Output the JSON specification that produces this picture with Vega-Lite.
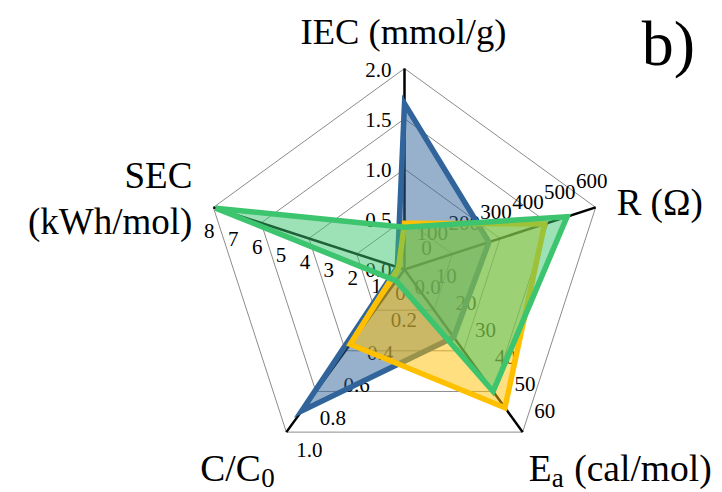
{
  "$schema": "https://vega.github.io/schema/vega-lite/v6.json",
  "width": 722,
  "height": 492,
  "autosize": {"type": "none"},
  "padding": 0,
  "background": "white",
  "config": {"view": {"stroke": null}, "text": {"font": "'Liberation Serif', 'Times New Roman', Times, serif"}},
  "datasets": {
    "rings": [
      {"lvl": 0.25, "idx": 0}, {"lvl": 0.25, "idx": 1}, {"lvl": 0.25, "idx": 2}, {"lvl": 0.25, "idx": 3}, {"lvl": 0.25, "idx": 4},
      {"lvl": 0.5, "idx": 0}, {"lvl": 0.5, "idx": 1}, {"lvl": 0.5, "idx": 2}, {"lvl": 0.5, "idx": 3}, {"lvl": 0.5, "idx": 4},
      {"lvl": 0.75, "idx": 0}, {"lvl": 0.75, "idx": 1}, {"lvl": 0.75, "idx": 2}, {"lvl": 0.75, "idx": 3}, {"lvl": 0.75, "idx": 4},
      {"lvl": 1, "idx": 0}, {"lvl": 1, "idx": 1}, {"lvl": 1, "idx": 2}, {"lvl": 1, "idx": 3}, {"lvl": 1, "idx": 4}
    ],
    "axes": [
      {"idx": 0, "name": "IEC"}, {"idx": 1, "name": "R"}, {"idx": 2, "name": "Ea"}, {"idx": 3, "name": "C/C0"}, {"idx": 4, "name": "SEC"}
    ],
    "ticks": [
      {"idx": 0, "v": 0, "t": "0.0"}, {"idx": 0, "v": 0.5, "t": "0.5"}, {"idx": 0, "v": 1, "t": "1.0"}, {"idx": 0, "v": 1.5, "t": "1.5"}, {"idx": 0, "v": 2, "t": "2.0"},
      {"idx": 1, "v": 0, "t": "0"}, {"idx": 1, "v": 100, "t": "100"}, {"idx": 1, "v": 200, "t": "200"}, {"idx": 1, "v": 300, "t": "300"}, {"idx": 1, "v": 400, "t": "400"}, {"idx": 1, "v": 500, "t": "500"}, {"idx": 1, "v": 600, "t": "600"},
      {"idx": 2, "v": 0, "t": "0"}, {"idx": 2, "v": 10, "t": "10"}, {"idx": 2, "v": 20, "t": "20"}, {"idx": 2, "v": 30, "t": "30"}, {"idx": 2, "v": 40, "t": "40"}, {"idx": 2, "v": 50, "t": "50"}, {"idx": 2, "v": 60, "t": "60"},
      {"idx": 3, "v": 0, "t": "0.0"}, {"idx": 3, "v": 0.2, "t": "0.2"}, {"idx": 3, "v": 0.4, "t": "0.4"}, {"idx": 3, "v": 0.6, "t": "0.6"}, {"idx": 3, "v": 0.8, "t": "0.8"}, {"idx": 3, "v": 1, "t": "1.0"},
      {"idx": 4, "v": 0, "t": "0"}, {"idx": 4, "v": 1, "t": "1"}, {"idx": 4, "v": 2, "t": "2"}, {"idx": 4, "v": 3, "t": "3"}, {"idx": 4, "v": 4, "t": "4"}, {"idx": 4, "v": 5, "t": "5"}, {"idx": 4, "v": 6, "t": "6"}, {"idx": 4, "v": 7, "t": "7"}, {"idx": 4, "v": 8, "t": "8"}
    ],
    "series": [
      {"s": "A", "idx": 0, "v": 1.65}, {"s": "A", "idx": 1, "v": 265}, {"s": "A", "idx": 2, "v": 25}, {"s": "A", "idx": 3, "v": 0.87}, {"s": "A", "idx": 4, "v": 0.3},
      {"s": "B", "idx": 0, "v": 0.46}, {"s": "B", "idx": 1, "v": 440}, {"s": "B", "idx": 2, "v": 51}, {"s": "B", "idx": 3, "v": 0.46}, {"s": "B", "idx": 4, "v": 0.25},
      {"s": "C", "idx": 0, "v": 0.42}, {"s": "C", "idx": 1, "v": 510}, {"s": "C", "idx": 2, "v": 45}, {"s": "C", "idx": 3, "v": 0.07}, {"s": "C", "idx": 4, "v": 7.9}
    ],
    "titles": [
      {"idx": 0, "part": "main", "t": "IEC (mmol/g)"},
      {"idx": 1, "part": "main", "t": "R (Ω)"},
      {"idx": 1, "part": "panel", "t": "b)"},
      {"idx": 2, "part": "main", "t": "E"},
      {"idx": 2, "part": "sub", "t": "a"},
      {"idx": 2, "part": "rest", "t": "(cal/mol)"},
      {"idx": 3, "part": "main", "t": "C/C"},
      {"idx": 3, "part": "sub", "t": "0"},
      {"idx": 4, "part": "main", "t": "SEC\n(kWh/mol)"}
    ]
  },
  "layer": [
    {
      "data": {"name": "rings"},
      "transform": [
        {"calculate": "PI/2 - datum.idx*2*PI/5", "as": "a"},
        {"calculate": "datum.lvl*cos(datum.a)", "as": "px"},
        {"calculate": "datum.lvl*sin(datum.a)", "as": "py"}
      ],
      "mark": {"type": "line", "interpolate": "linear-closed", "stroke": "#8c8c8c", "strokeWidth": 1},
      "encoding": {
        "x": {"field": "px", "type": "quantitative", "scale": {"domain": [-2.01244, 1.5796], "nice": false, "zero": false}, "axis": null},
        "y": {"field": "py", "type": "quantitative", "scale": {"domain": [-1.10697, 1.3408], "nice": false, "zero": false}, "axis": null},
        "detail": {"field": "lvl", "type": "nominal"},
        "order": {"field": "idx", "type": "quantitative"}
      }
    },
    {
      "data": {"name": "axes"},
      "transform": [
        {"calculate": "PI/2 - datum.idx*2*PI/5", "as": "a"},
        {"calculate": "cos(datum.a)", "as": "px"},
        {"calculate": "sin(datum.a)", "as": "py"},
        {"calculate": "0", "as": "zx"}
      ],
      "mark": {"type": "rule", "stroke": "#000000", "strokeWidth": 2.5},
      "encoding": {
        "x": {"field": "zx", "type": "quantitative", "scale": {"domain": [-2.01244, 1.5796], "nice": false, "zero": false}, "axis": null},
        "y": {"field": "zx", "type": "quantitative", "scale": {"domain": [-1.10697, 1.3408], "nice": false, "zero": false}, "axis": null},
        "x2": {"field": "px"},
        "y2": {"field": "py"}
      }
    },
    {
      "data": {"name": "ticks"},
      "transform": [
        {"filter": "datum.idx == 0"},
        {"calculate": "PI/2 - datum.idx*2*PI/5", "as": "a"},
        {"calculate": "datum.v / [2,600,60,1,8][datum.idx]", "as": "r"},
        {"calculate": "datum.r*cos(datum.a)", "as": "px"},
        {"calculate": "datum.r*sin(datum.a)", "as": "py"}
      ],
      "mark": {"type": "text", "fontSize": 21, "color": "#000000", "align": "right", "baseline": "middle", "dx": -13, "dy": 2},
      "encoding": {
        "x": {"field": "px", "type": "quantitative", "scale": {"domain": [-2.01244, 1.5796], "nice": false, "zero": false}, "axis": null},
        "y": {"field": "py", "type": "quantitative", "scale": {"domain": [-1.10697, 1.3408], "nice": false, "zero": false}, "axis": null},
        "text": {"field": "t", "type": "nominal"}
      }
    },
    {
      "data": {"name": "ticks"},
      "transform": [
        {"filter": "datum.idx == 1"},
        {"calculate": "PI/2 - datum.idx*2*PI/5", "as": "a"},
        {"calculate": "datum.v / [2,600,60,1,8][datum.idx]", "as": "r"},
        {"calculate": "datum.r*cos(datum.a)", "as": "px"},
        {"calculate": "datum.r*sin(datum.a)", "as": "py"}
      ],
      "mark": {"type": "text", "fontSize": 21, "color": "#000000", "align": "center", "baseline": "middle", "dx": -4, "dy": -25},
      "encoding": {
        "x": {"field": "px", "type": "quantitative", "scale": {"domain": [-2.01244, 1.5796], "nice": false, "zero": false}, "axis": null},
        "y": {"field": "py", "type": "quantitative", "scale": {"domain": [-1.10697, 1.3408], "nice": false, "zero": false}, "axis": null},
        "text": {"field": "t", "type": "nominal"}
      }
    },
    {
      "data": {"name": "ticks"},
      "transform": [
        {"filter": "datum.idx == 2"},
        {"calculate": "PI/2 - datum.idx*2*PI/5", "as": "a"},
        {"calculate": "datum.v / [2,600,60,1,8][datum.idx]", "as": "r"},
        {"calculate": "datum.r*cos(datum.a)", "as": "px"},
        {"calculate": "datum.r*sin(datum.a)", "as": "py"}
      ],
      "mark": {"type": "text", "fontSize": 21, "color": "#000000", "align": "center", "baseline": "middle", "dx": 22, "dy": -20},
      "encoding": {
        "x": {"field": "px", "type": "quantitative", "scale": {"domain": [-2.01244, 1.5796], "nice": false, "zero": false}, "axis": null},
        "y": {"field": "py", "type": "quantitative", "scale": {"domain": [-1.10697, 1.3408], "nice": false, "zero": false}, "axis": null},
        "text": {"field": "t", "type": "nominal"}
      }
    },
    {
      "data": {"name": "ticks"},
      "transform": [
        {"filter": "datum.idx == 3"},
        {"calculate": "PI/2 - datum.idx*2*PI/5", "as": "a"},
        {"calculate": "datum.v / [2,600,60,1,8][datum.idx]", "as": "r"},
        {"calculate": "datum.r*cos(datum.a)", "as": "px"},
        {"calculate": "datum.r*sin(datum.a)", "as": "py"}
      ],
      "mark": {"type": "text", "fontSize": 21, "color": "#000000", "align": "center", "baseline": "middle", "dx": 23, "dy": 19},
      "encoding": {
        "x": {"field": "px", "type": "quantitative", "scale": {"domain": [-2.01244, 1.5796], "nice": false, "zero": false}, "axis": null},
        "y": {"field": "py", "type": "quantitative", "scale": {"domain": [-1.10697, 1.3408], "nice": false, "zero": false}, "axis": null},
        "text": {"field": "t", "type": "nominal"}
      }
    },
    {
      "data": {"name": "ticks"},
      "transform": [
        {"filter": "datum.idx == 4"},
        {"calculate": "PI/2 - datum.idx*2*PI/5", "as": "a"},
        {"calculate": "datum.v / [2,600,60,1,8][datum.idx]", "as": "r"},
        {"calculate": "datum.r*cos(datum.a)", "as": "px"},
        {"calculate": "datum.r*sin(datum.a)", "as": "py"}
      ],
      "mark": {"type": "text", "fontSize": 21, "color": "#000000", "align": "center", "baseline": "middle", "dx": -4, "dy": 25},
      "encoding": {
        "x": {"field": "px", "type": "quantitative", "scale": {"domain": [-2.01244, 1.5796], "nice": false, "zero": false}, "axis": null},
        "y": {"field": "py", "type": "quantitative", "scale": {"domain": [-1.10697, 1.3408], "nice": false, "zero": false}, "axis": null},
        "text": {"field": "t", "type": "nominal"}
      }
    },
    {
      "data": {"name": "series"},
      "transform": [
        {"filter": "datum.s == 'A'"},
        {"calculate": "PI/2 - datum.idx*2*PI/5", "as": "a"},
        {"calculate": "datum.v / [2,600,60,1,8][datum.idx]", "as": "r"},
        {"calculate": "datum.r*cos(datum.a)", "as": "px"},
        {"calculate": "datum.r*sin(datum.a)", "as": "py"}
      ],
      "mark": {"type": "line", "interpolate": "linear-closed", "stroke": "#30649A", "strokeWidth": 5.5, "strokeJoin": "miter", "fill": "#30649A", "fillOpacity": 0.5},
      "encoding": {
        "x": {"field": "px", "type": "quantitative", "scale": {"domain": [-2.01244, 1.5796], "nice": false, "zero": false}, "axis": null},
        "y": {"field": "py", "type": "quantitative", "scale": {"domain": [-1.10697, 1.3408], "nice": false, "zero": false}, "axis": null},
        "order": {"field": "idx", "type": "quantitative"}
      }
    },
    {
      "data": {"name": "series"},
      "transform": [
        {"filter": "datum.s == 'B'"},
        {"calculate": "PI/2 - datum.idx*2*PI/5", "as": "a"},
        {"calculate": "datum.v / [2,600,60,1,8][datum.idx]", "as": "r"},
        {"calculate": "datum.r*cos(datum.a)", "as": "px"},
        {"calculate": "datum.r*sin(datum.a)", "as": "py"}
      ],
      "mark": {"type": "line", "interpolate": "linear-closed", "stroke": "#FFC000", "strokeWidth": 5.5, "strokeJoin": "miter", "fill": "#FFC000", "fillOpacity": 0.5},
      "encoding": {
        "x": {"field": "px", "type": "quantitative", "scale": {"domain": [-2.01244, 1.5796], "nice": false, "zero": false}, "axis": null},
        "y": {"field": "py", "type": "quantitative", "scale": {"domain": [-1.10697, 1.3408], "nice": false, "zero": false}, "axis": null},
        "order": {"field": "idx", "type": "quantitative"}
      }
    },
    {
      "data": {"name": "series"},
      "transform": [
        {"filter": "datum.s == 'C'"},
        {"calculate": "PI/2 - datum.idx*2*PI/5", "as": "a"},
        {"calculate": "datum.v / [2,600,60,1,8][datum.idx]", "as": "r"},
        {"calculate": "datum.r*cos(datum.a)", "as": "px"},
        {"calculate": "datum.r*sin(datum.a)", "as": "py"}
      ],
      "mark": {"type": "line", "interpolate": "linear-closed", "stroke": "#3CC46E", "strokeWidth": 5.5, "strokeJoin": "miter", "fill": "#3CC46E", "fillOpacity": 0.5},
      "encoding": {
        "x": {"field": "px", "type": "quantitative", "scale": {"domain": [-2.01244, 1.5796], "nice": false, "zero": false}, "axis": null},
        "y": {"field": "py", "type": "quantitative", "scale": {"domain": [-1.10697, 1.3408], "nice": false, "zero": false}, "axis": null},
        "order": {"field": "idx", "type": "quantitative"}
      }
    },
    {
      "data": {"name": "titles"},
      "transform": [
        {"filter": "datum.idx == 0 && datum.part == 'main'"},
        {"calculate": "PI/2 - datum.idx*2*PI/5", "as": "a"},
        {"calculate": "cos(datum.a)", "as": "px"},
        {"calculate": "sin(datum.a)", "as": "py"}
      ],
      "mark": {"type": "text", "fontSize": 36.5, "color": "#000000", "align": "center", "baseline": "alphabetic", "dx": -1, "dy": -25},
      "encoding": {
        "x": {"field": "px", "type": "quantitative", "scale": {"domain": [-2.01244, 1.5796], "nice": false, "zero": false}, "axis": null},
        "y": {"field": "py", "type": "quantitative", "scale": {"domain": [-1.10697, 1.3408], "nice": false, "zero": false}, "axis": null},
        "text": {"field": "t", "type": "nominal"}
      }
    },
    {
      "data": {"name": "titles"},
      "transform": [
        {"filter": "datum.idx == 1 && datum.part == 'main'"},
        {"calculate": "PI/2 - datum.idx*2*PI/5", "as": "a"},
        {"calculate": "cos(datum.a)", "as": "px"},
        {"calculate": "sin(datum.a)", "as": "py"}
      ],
      "mark": {"type": "text", "fontSize": 37, "color": "#000000", "align": "left", "baseline": "alphabetic", "dx": 21, "dy": 8},
      "encoding": {
        "x": {"field": "px", "type": "quantitative", "scale": {"domain": [-2.01244, 1.5796], "nice": false, "zero": false}, "axis": null},
        "y": {"field": "py", "type": "quantitative", "scale": {"domain": [-1.10697, 1.3408], "nice": false, "zero": false}, "axis": null},
        "text": {"field": "t", "type": "nominal"}
      }
    },
    {
      "data": {"name": "titles"},
      "transform": [
        {"filter": "datum.idx == 1 && datum.part == 'panel'"},
        {"calculate": "PI/2 - datum.idx*2*PI/5", "as": "a"},
        {"calculate": "cos(datum.a)", "as": "px"},
        {"calculate": "sin(datum.a)", "as": "py"}
      ],
      "mark": {"type": "text", "fontSize": 64, "color": "#000000", "align": "left", "baseline": "alphabetic", "dx": 46, "dy": -142},
      "encoding": {
        "x": {"field": "px", "type": "quantitative", "scale": {"domain": [-2.01244, 1.5796], "nice": false, "zero": false}, "axis": null},
        "y": {"field": "py", "type": "quantitative", "scale": {"domain": [-1.10697, 1.3408], "nice": false, "zero": false}, "axis": null},
        "text": {"field": "t", "type": "nominal"}
      }
    },
    {
      "data": {"name": "titles"},
      "transform": [
        {"filter": "datum.idx == 2 && datum.part == 'main'"},
        {"calculate": "PI/2 - datum.idx*2*PI/5", "as": "a"},
        {"calculate": "cos(datum.a)", "as": "px"},
        {"calculate": "sin(datum.a)", "as": "py"}
      ],
      "mark": {"type": "text", "fontSize": 37.5, "color": "#000000", "align": "left", "baseline": "alphabetic", "dx": 6, "dy": 49},
      "encoding": {
        "x": {"field": "px", "type": "quantitative", "scale": {"domain": [-2.01244, 1.5796], "nice": false, "zero": false}, "axis": null},
        "y": {"field": "py", "type": "quantitative", "scale": {"domain": [-1.10697, 1.3408], "nice": false, "zero": false}, "axis": null},
        "text": {"field": "t", "type": "nominal"}
      }
    },
    {
      "data": {"name": "titles"},
      "transform": [
        {"filter": "datum.idx == 2 && datum.part == 'sub'"},
        {"calculate": "PI/2 - datum.idx*2*PI/5", "as": "a"},
        {"calculate": "cos(datum.a)", "as": "px"},
        {"calculate": "sin(datum.a)", "as": "py"}
      ],
      "mark": {"type": "text", "fontSize": 27, "color": "#000000", "align": "left", "baseline": "alphabetic", "dx": 29, "dy": 55},
      "encoding": {
        "x": {"field": "px", "type": "quantitative", "scale": {"domain": [-2.01244, 1.5796], "nice": false, "zero": false}, "axis": null},
        "y": {"field": "py", "type": "quantitative", "scale": {"domain": [-1.10697, 1.3408], "nice": false, "zero": false}, "axis": null},
        "text": {"field": "t", "type": "nominal"}
      }
    },
    {
      "data": {"name": "titles"},
      "transform": [
        {"filter": "datum.idx == 2 && datum.part == 'rest'"},
        {"calculate": "PI/2 - datum.idx*2*PI/5", "as": "a"},
        {"calculate": "cos(datum.a)", "as": "px"},
        {"calculate": "sin(datum.a)", "as": "py"}
      ],
      "mark": {"type": "text", "fontSize": 37.5, "color": "#000000", "align": "right", "baseline": "alphabetic", "dx": 189, "dy": 49},
      "encoding": {
        "x": {"field": "px", "type": "quantitative", "scale": {"domain": [-2.01244, 1.5796], "nice": false, "zero": false}, "axis": null},
        "y": {"field": "py", "type": "quantitative", "scale": {"domain": [-1.10697, 1.3408], "nice": false, "zero": false}, "axis": null},
        "text": {"field": "t", "type": "nominal"}
      }
    },
    {
      "data": {"name": "titles"},
      "transform": [
        {"filter": "datum.idx == 3 && datum.part == 'main'"},
        {"calculate": "PI/2 - datum.idx*2*PI/5", "as": "a"},
        {"calculate": "cos(datum.a)", "as": "px"},
        {"calculate": "sin(datum.a)", "as": "py"}
      ],
      "mark": {"type": "text", "fontSize": 37.5, "color": "#000000", "align": "left", "baseline": "alphabetic", "dx": -86, "dy": 49},
      "encoding": {
        "x": {"field": "px", "type": "quantitative", "scale": {"domain": [-2.01244, 1.5796], "nice": false, "zero": false}, "axis": null},
        "y": {"field": "py", "type": "quantitative", "scale": {"domain": [-1.10697, 1.3408], "nice": false, "zero": false}, "axis": null},
        "text": {"field": "t", "type": "nominal"}
      }
    },
    {
      "data": {"name": "titles"},
      "transform": [
        {"filter": "datum.idx == 3 && datum.part == 'sub'"},
        {"calculate": "PI/2 - datum.idx*2*PI/5", "as": "a"},
        {"calculate": "cos(datum.a)", "as": "px"},
        {"calculate": "sin(datum.a)", "as": "py"}
      ],
      "mark": {"type": "text", "fontSize": 27, "color": "#000000", "align": "left", "baseline": "alphabetic", "dx": -25, "dy": 55},
      "encoding": {
        "x": {"field": "px", "type": "quantitative", "scale": {"domain": [-2.01244, 1.5796], "nice": false, "zero": false}, "axis": null},
        "y": {"field": "py", "type": "quantitative", "scale": {"domain": [-1.10697, 1.3408], "nice": false, "zero": false}, "axis": null},
        "text": {"field": "t", "type": "nominal"}
      }
    },
    {
      "data": {"name": "titles"},
      "transform": [
        {"filter": "datum.idx == 4 && datum.part == 'main'"},
        {"calculate": "PI/2 - datum.idx*2*PI/5", "as": "a"},
        {"calculate": "cos(datum.a)", "as": "px"},
        {"calculate": "sin(datum.a)", "as": "py"}
      ],
      "mark": {"type": "text", "fontSize": 37, "color": "#000000", "align": "right", "baseline": "alphabetic", "dx": -21, "dy": -19, "lineBreak": "\n", "lineHeight": 46},
      "encoding": {
        "x": {"field": "px", "type": "quantitative", "scale": {"domain": [-2.01244, 1.5796], "nice": false, "zero": false}, "axis": null},
        "y": {"field": "py", "type": "quantitative", "scale": {"domain": [-1.10697, 1.3408], "nice": false, "zero": false}, "axis": null},
        "text": {"field": "t", "type": "nominal"}
      }
    }
  ]
}
